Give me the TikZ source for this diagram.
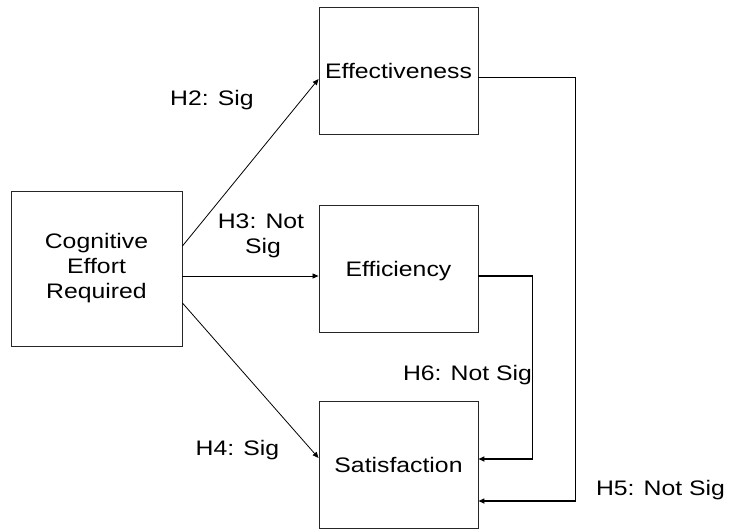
\documentclass[tikz,border=0pt]{standalone}
\usepackage{fontspec}
\setmainfont[FakeStretch=1.18]{Liberation Sans}
\usetikzlibrary{arrows.meta}
\begin{document}
\begin{tikzpicture}[x=1pt,y=-1pt,
  box/.style={draw=black!85,line width=0.9pt,minimum width=159pt,minimum height=127pt,inner sep=0pt,
    font=\fontsize{21}{25}\selectfont,text height=15pt,text depth=0pt},
  lbl/.style={font=\fontsize{21}{25}\selectfont,inner sep=0pt,anchor=base},
  thin conn/.style={line width=0.8pt,-{Triangle[length=6pt,width=5pt]}},
  thick conn/.style={line width=1.8pt,-{Triangle[length=6pt,width=5pt]}}]
\useasboundingbox (0,0) rectangle (729,531);
\node[box,minimum width=171pt,minimum height=155pt,text height=,text depth=,align=center] (cog) at (96.5,268.5) {Cognitive\\Effort\\Required};
\node[box] (eff) at (398.5,70.5) {Effectiveness};
\node[box] (effi) at (398.5,268.5) {Efficiency};
\node[box] (sat) at (398.5,465) {Satisfaction};
\draw[thin conn] ([yshift=22.5pt]cog.east) -- ([yshift=-8.5pt]eff.west);
\draw[thin conn] ([yshift=-7.5pt]cog.east) -- ([yshift=-7.5pt]effi.west);
\draw[thin conn] ([yshift=-34.5pt]cog.east) -- ([yshift=7pt]sat.west);
\draw[thick conn] ([yshift=-7pt]eff.east) -- ++(97pt,0) |- ([yshift=-36pt]sat.east);
\draw[thick conn] ([yshift=-7.5pt]effi.east) -- ++(54pt,0) |- ([yshift=6pt]sat.east);
\node[lbl] (h2) at (212,105) {H2: Sig};
\node[lbl] (h3a) at (261,228) {H3: Not};
\node[lbl] (h3b) at (263,253) {Sig};
\node[lbl] (h4) at (237.5,455) {H4: Sig};
\node[lbl] (h6) at (467.5,380) {H6: Not Sig};
\node[lbl] (h5) at (660.5,495) {H5: Not Sig};
\end{tikzpicture}
\end{document}
